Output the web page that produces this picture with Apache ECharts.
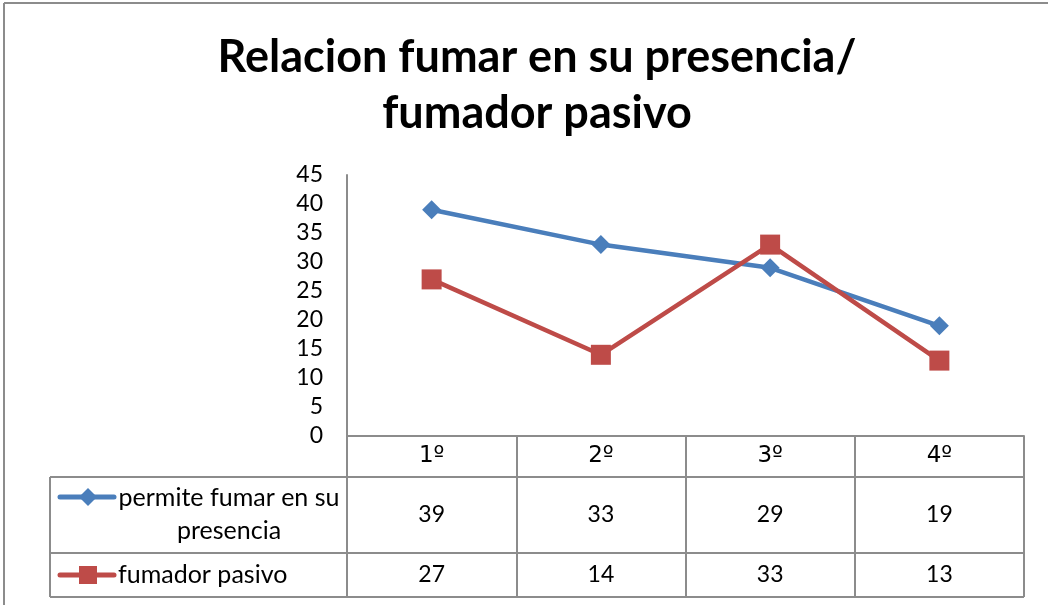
<!DOCTYPE html>
<html>
<head>
<meta charset="utf-8">
<script src="https://cdn.jsdelivr.net/npm/echarts@6/dist/echarts.min.js"></script>
<style>
  html, body { margin: 0; padding: 0; background: #fff; }
  #main { width: 1048px; height: 605px; }
</style>
</head>
<body>
<div id="main"></div>
<script>
// datos del gráfico
const categories = ['1º', '2º', '3º', '4º'];
const permiteFumar = [39, 33, 29, 19];
const fumadorPasivo = [27, 14, 33, 13];
const seriesNames = ['permite fumar en su\npresencia', 'fumador pasivo'];

const blue = '#4a7ebb';
const red = '#be4b48';
const gridColor = '#8c8c8c';
const font = 'Lato, "Open Sans", sans-serif';
const textSize = 23;

let chart = echarts.init(document.getElementById('main'));

chart.setOption({
  animation: false,
  title: {
    text: 'Relacion fumar en su presencia/\nfumador pasivo',
    left: 532,
    textAlign: 'center',
    top: 24,
    textStyle: {
      fontFamily: font,
      fontSize: 45,
      fontWeight: 'bold',
      color: '#000',
      lineHeight: 56
    }
  },
  grid: {
    left: 347,
    right: 24,
    top: 175,
    bottom: 169
  },
  xAxis: {
    type: 'category',
    data: categories,
    boundaryGap: true,
    axisLine: { lineStyle: { color: gridColor, width: 2 } },
    axisTick: {
      show: true,
      alignWithLabel: false,
      length: 161,
      lineStyle: { color: gridColor, width: 2 }
    },
    axisLabel: {
      margin: 9,
      fontFamily: '"DejaVu Sans", sans-serif',
      fontSize: 23,
      color: '#000'
    }
  },
  yAxis: {
    type: 'value',
    min: 0,
    max: 45,
    interval: 5,
    axisLine: { show: true, lineStyle: { color: gridColor, width: 2 } },
    axisTick: { show: false },
    splitLine: { show: false },
    axisLabel: {
      margin: 24,
      fontFamily: font,
      fontSize: textSize,
      color: '#000'
    }
  },
  series: [
    {
      name: seriesNames[0],
      type: 'line',
      data: permiteFumar,
      symbol: 'diamond',
      symbolSize: 19,
      lineStyle: { color: blue, width: 4.5 },
      itemStyle: { color: blue }
    },
    {
      name: seriesNames[1],
      type: 'line',
      data: fumadorPasivo,
      symbol: 'rect',
      symbolSize: 20,
      lineStyle: { color: red, width: 4.5 },
      itemStyle: { color: red }
    }
  ]
});

// tabla de datos debajo del eje
function drawTable () {
  const rows = [permiteFumar, fumadorPasivo];
  const rowColors = [blue, red];
  const rowSymbols = ['diamond', 'rect'];
  const rowTop = [477, 553];
  const rowBottom = [553, 597];
  const leftX = 50;
  const step = chart.convertToPixel({ xAxisIndex: 0 }, 1) - chart.convertToPixel({ xAxisIndex: 0 }, 0);
  const rightX = chart.convertToPixel({ xAxisIndex: 0 }, categories.length - 1) + step / 2;
  const elements = [];

  // borde exterior del área del gráfico
  elements.push({ type: 'line', shape: { x1: 4, y1: 3, x2: 1048, y2: 3 }, style: { stroke: gridColor, lineWidth: 2 } });
  elements.push({ type: 'line', shape: { x1: 4, y1: 3, x2: 4, y2: 605 }, style: { stroke: gridColor, lineWidth: 2 } });

  [477, 553, 597].forEach(y => {
    elements.push({ type: 'line', shape: { x1: leftX, y1: y, x2: rightX, y2: y }, style: { stroke: gridColor, lineWidth: 2 } });
  });
  elements.push({ type: 'line', shape: { x1: leftX, y1: 477, x2: leftX, y2: 597 }, style: { stroke: gridColor, lineWidth: 2 } });

  rows.forEach((vals, r) => {
    const cy = (rowTop[r] + rowBottom[r]) / 2;
    vals.forEach((v, i) => {
      const x = chart.convertToPixel({ xAxisIndex: 0 }, i);
      elements.push({
        type: 'text',
        x: x, y: cy,
        style: { text: String(v), fontFamily: font, fontSize: textSize, fill: '#000', align: 'center', verticalAlign: 'middle' }
      });
    });
    // clave de leyenda
    const ly = r === 0 ? 497 : cy;
    elements.push({ type: 'line', shape: { x1: 60, y1: ly, x2: 114, y2: ly }, style: { stroke: rowColors[r], lineWidth: 5, lineCap: 'round' } });
    if (rowSymbols[r] === 'diamond') {
      elements.push({ type: 'polygon', shape: { points: [[88, ly - 9], [97, ly], [88, ly + 9], [79, ly]] }, style: { fill: rowColors[r] } });
    } else {
      elements.push({ type: 'rect', shape: { x: 79, y: ly - 9, width: 18, height: 18 }, style: { fill: rowColors[r] } });
    }
    elements.push({
      type: 'text',
      x: r === 0 ? 229 : 118, y: r === 0 ? 514 : cy,
      style: {
        text: seriesNames[r], fontFamily: font, fontSize: 25, fill: '#000',
        align: r === 0 ? 'center' : 'left', verticalAlign: 'middle', lineHeight: 33
      }
    });
  });

  chart.setOption({ graphic: elements });
}

drawTable();
</script>
</body>
</html>
